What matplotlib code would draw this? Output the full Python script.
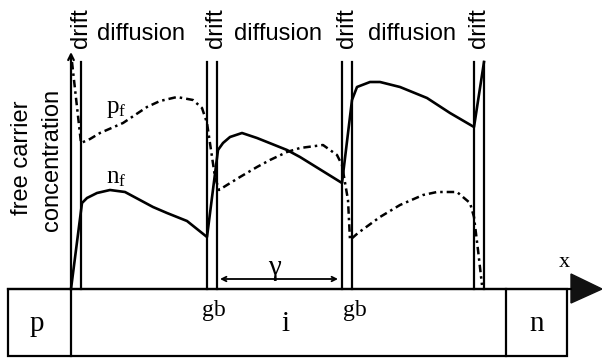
import matplotlib
matplotlib.use("Agg")
import matplotlib.pyplot as plt
from matplotlib.patches import Rectangle, Polygon

plt.rcParams['mathtext.fontset'] = 'custom'
plt.rcParams['mathtext.rm'] = 'Liberation Serif'
plt.rcParams['mathtext.it'] = 'Liberation Serif:italic'

SANS = 'Liberation Sans'
SERIF = 'Liberation Serif'

# grain-boundary drift zones (left / right edges along x)
gb_left = [71, 207, 342, 474]
gb_right = [81, 217, 352, 484]
drift_top = 227

# electron concentration n_f along the device
nf_x = [71, 82, 87, 97, 110, 125, 153, 167, 187, 207,
        218, 223, 230, 242, 257, 287, 300, 342,
        352, 357, 370, 380, 400, 427, 450, 474, 484]
nf_c = [0, 86, 91, 96, 99, 97, 82, 76, 68, 52,
        139, 146, 152, 156, 151, 139, 132, 106,
        189, 202, 207, 207, 202, 191, 176, 162, 227]

# hole concentration p_f along the device
pf_x = [72, 81, 90, 100, 123, 147, 160, 177, 193, 202, 205, 207, 211, 215,
        219, 227, 240, 257, 270, 287, 300, 323, 337, 342, 348, 350,
        358, 380, 400, 423, 437, 457, 470, 474, 478, 482]
pf_c = [227, 146, 150, 156, 166, 182, 188, 192, 189, 181, 172, 166, 139, 112,
        99, 104, 112, 122, 129, 137, 141, 144, 134, 124, 89, 49,
        56, 72, 84, 94, 97, 97, 86, 72, 39, 4]

region_labels = ['p', 'i', 'n']
region_x = [37, 286, 537]
zone_labels = ['diffusion', 'diffusion', 'diffusion']
zone_x = [141, 278, 412]
drift_label_x = [87, 222, 353, 485]
gb_label_x = [214, 355]

fig = plt.figure(figsize=(6.02, 3.58), dpi=100)
ax = fig.add_axes([0, 0, 1, 1])
ax.set_xlim(0, 602)
ax.set_ylim(-69, 289)
ax.set_axis_off()

lw_frame = 1.6
# device bar
ax.add_patch(Rectangle((8, -67), 559, 67, fill=False, lw=lw_frame, ec='black'))
ax.plot([8, 571], [0, 0], color='black', lw=lw_frame)
ax.plot([71, 71], [-67, 0], color='black', lw=lw_frame)
ax.plot([506, 506], [-67, 0], color='black', lw=lw_frame)
ax.add_patch(Polygon([(571, 15), (602, 0), (571, -14)], closed=True,
                     fc='#111111', ec='#111111'))

# concentration axis
ax.annotate('', xy=(71, 237), xytext=(71, 0),
            arrowprops=dict(arrowstyle='->', lw=lw_frame, color='black',
                            mutation_scale=10, shrinkA=0, shrinkB=0))

# drift zone boundaries
for i, (xl, xr) in enumerate(zip(gb_left, gb_right)):
    if i > 0:
        ax.plot([xl, xl], [0, drift_top], color='black', lw=lw_frame)
    ax.plot([xr, xr], [0, drift_top], color='black', lw=lw_frame)

# carrier profiles
ax.plot(nf_x, nf_c, color='black', lw=1.9, solid_joinstyle='round')
ax.plot(pf_x, pf_c, color='black', lw=1.8, linestyle=(0, (3.0, 1.6, 1.0, 1.6)))

# grain size arrow
ax.annotate('', xy=(338, 10), xytext=(220, 10),
            arrowprops=dict(arrowstyle='<->', lw=1.3, color='black',
                            mutation_scale=8, shrinkA=0, shrinkB=0))
ax.text(274, 14, 'γ', family=SERIF, fontsize=21, ha='center', va='baseline')

# labels
for x in drift_label_x:
    ax.text(x, 261, 'drift', family=SANS, fontsize=17, rotation=90,
            rotation_mode='anchor', ha='center', va='baseline')
for x, s in zip(zone_x, zone_labels):
    ax.text(x, 249, s, family=SANS, fontsize=17, ha='center', va='baseline')

ax.text(28, 131, 'free carrier', family=SANS, fontsize=17, rotation=90,
        rotation_mode='anchor', ha='center', va='baseline')
ax.text(58, 129, 'concentration', family=SANS, fontsize=17, rotation=90,
        rotation_mode='anchor', ha='center', va='baseline')

for x, s in zip(region_x, region_labels):
    ax.text(x, -42, s, family=SERIF, fontsize=21, ha='center', va='baseline')
for x in gb_label_x:
    ax.text(x, -27, 'gb', family=SERIF, fontsize=17, ha='center', va='baseline')
ax.text(564, 22, 'x', family=SERIF, fontsize=16, ha='center', va='baseline')

ax.text(106, 176, r'$\mathrm{p_f}$', fontsize=18, ha='left', va='baseline')
ax.text(106, 106, r'$\mathrm{n_f}$', fontsize=18, ha='left', va='baseline')

fig.savefig('out.png', dpi=100)
